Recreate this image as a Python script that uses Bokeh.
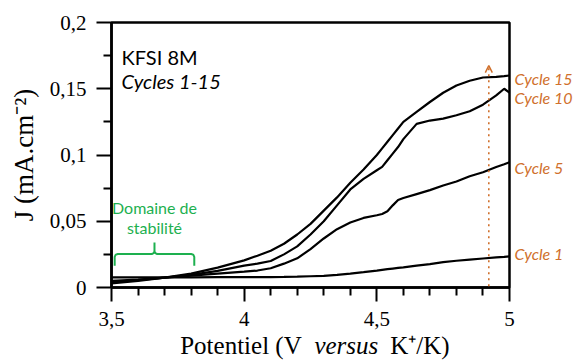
from bokeh.plotting import figure
from bokeh.models import Range1d, FixedTicker, Label, Arrow, OpenHead, LinearAxis
from bokeh.embed import file_html
from bokeh.resources import INLINE

# ---- data ----
potential = [3.5, 3.6, 3.7, 3.8, 3.9, 4.0, 4.05, 4.1, 4.15, 4.2, 4.25, 4.3, 4.35, 4.4, 4.45, 4.5,
             4.52, 4.54, 4.56, 4.58, 4.6, 4.65, 4.7, 4.75, 4.8, 4.85, 4.9, 4.95, 4.98, 5.0]
cycle_1 = [0.0076, 0.0077, 0.0077, 0.0077, 0.0078, 0.0078, 0.0078, 0.0079, 0.0080, 0.0082, 0.0085, 0.0088, 0.0095, 0.0105, 0.0116, 0.0128,
           0.0133, 0.0138, 0.0143, 0.0148, 0.0152, 0.0165, 0.0177, 0.0191, 0.0202, 0.0211, 0.0219, 0.0227, 0.0231, 0.0235]
cycle_5 = [0.0050, 0.0060, 0.0075, 0.0090, 0.0105, 0.0120, 0.0128, 0.0145, 0.0180, 0.0220, 0.0290, 0.0370, 0.0440, 0.0490, 0.0525, 0.0545,
           0.0555, 0.0575, 0.0620, 0.0660, 0.0675, 0.0705, 0.0735, 0.0770, 0.0800, 0.0840, 0.0870, 0.0910, 0.0930, 0.0945]
cycle_10 = [0.0040, 0.0055, 0.0075, 0.0095, 0.0125, 0.0165, 0.0180, 0.0200, 0.0250, 0.0310, 0.0400, 0.0500, 0.0620, 0.0740, 0.0820, 0.0885,
            0.0910, 0.0960, 0.1010, 0.1060, 0.1120, 0.1235, 0.1260, 0.1275, 0.1300, 0.1330, 0.1380, 0.1450, 0.1500, 0.1470]
cycle_15 = [0.0030, 0.0050, 0.0075, 0.0105, 0.0150, 0.0205, 0.0240, 0.0278, 0.0330, 0.0400, 0.0480, 0.0580, 0.0680, 0.0790, 0.0890, 0.1000,
            0.1050, 0.1100, 0.1150, 0.1200, 0.1250, 0.1325, 0.1400, 0.1470, 0.1525, 0.1560, 0.1585, 0.1590, 0.1595, 0.1600]
series_names = ["Cycle 1", "Cycle 5", "Cycle 10", "Cycle 15"]

x_ticks = [3.5, 4.0, 4.5, 5.0]
x_tick_labels = ["3,5", "4", "4,5", "5"]
x_minor = [3.6, 3.7, 3.8, 3.9, 4.1, 4.2, 4.3, 4.4, 4.6, 4.7, 4.8, 4.9]
y_ticks = [0, 0.05, 0.1, 0.15, 0.2]
y_tick_labels = ["0", "0,05", "0,1", "0,15", "0,2"]
y_minor = [0.025, 0.075, 0.125, 0.175]

ORANGE = "#D0702C"
GREEN = "#1DB04F"
SERIF = "Liberation Serif"
SANS = "Lato"

p = figure(width=575, height=363, output_backend="svg", toolbar_location=None,
           x_range=Range1d(3.5, 5.0), y_range=Range1d(0, 0.2),
           min_border_left=111, min_border_right=65, min_border_top=22, min_border_bottom=76,
           background_fill_color="white", border_fill_color="white")
p.xgrid.visible = False
p.ygrid.visible = False
p.outline_line_color = "black"
p.outline_line_width = 2.5
p.outline_line_alpha = 1

for ax in (p.xaxis[0], p.yaxis[0]):
    ax.axis_line_width = 2.5
    ax.major_tick_line_width = 2
    ax.minor_tick_line_width = 2
    ax.major_tick_in = 0
    ax.minor_tick_in = 0
    ax.major_label_text_font = SERIF
    ax.major_label_text_font_size = "21px"
    ax.major_label_text_color = "black"
    ax.axis_label_text_font = SERIF
    ax.axis_label_text_font_style = "normal"
    ax.axis_label_text_color = "black"

p.xaxis.ticker = FixedTicker(ticks=x_ticks, minor_ticks=x_minor)
p.xaxis.major_label_overrides = dict(zip(x_ticks, x_tick_labels))
p.xaxis.major_tick_out = 14
p.xaxis.minor_tick_out = 8
p.xaxis.major_label_standoff = 10

p.yaxis.ticker = FixedTicker(ticks=y_ticks, minor_ticks=y_minor)
p.yaxis.major_label_overrides = dict(zip(y_ticks, y_tick_labels))
p.yaxis.major_tick_out = 15
p.yaxis.minor_tick_out = 8
p.yaxis.major_label_standoff = 10
p.yaxis.axis_label = "J (mA.cm⁻²)"
p.yaxis.axis_label_text_font_size = "27px"
p.yaxis.axis_label_standoff = 8


def text_axis(positions, texts, standoff, style="normal", font=SERIF, size="25px", color="black"):
    ax = LinearAxis(ticker=FixedTicker(ticks=positions, minor_ticks=[]),
                    major_label_overrides=dict(zip(positions, texts)),
                    axis_line_color=None, major_tick_line_color=None, minor_tick_line_color=None,
                    major_tick_out=0, major_tick_in=0, minor_tick_out=0, minor_tick_in=0,
                    major_label_standoff=standoff, major_label_text_font=font,
                    major_label_text_font_size=size, major_label_text_font_style=style,
                    major_label_text_color=color)
    return ax


# x axis title: "Potentiel (V versus K+/K)" with italic "versus"
xlabel_pos = [3.988, 4.662]
xlabel_txt = ["Potentiel (V", "K⁺/K)"]
xlabel_it_pos = [4.385]
xlabel_it_txt = ["versus"]
p.add_layout(text_axis(xlabel_pos, xlabel_txt, 3), "below")
p.add_layout(text_axis(xlabel_it_pos, xlabel_it_txt, -30, style="italic"), "below")

# curve labels on the right
label_y = [0.0257, 0.0906, 0.1434, 0.1577]
p.add_layout(text_axis(label_y, series_names, 5, style="italic", font=SANS, size="16px", color=ORANGE), "right")

# curves
for ys in (cycle_1, cycle_5, cycle_10, cycle_15):
    p.line(potential, ys, line_color="black", line_width=2.2)

# orange dotted arrow
p.add_layout(Arrow(x_start=4.922, y_start=0.001, x_end=4.922, y_end=0.1675,
                   line_color=ORANGE, line_width=1.6, line_dash="dotted",
                   end=OpenHead(size=7, line_color=ORANGE, line_width=1.5)))

# title texts
p.add_layout(Label(x=3.538, y=0.1743, text="KFSI 8M", text_font=SANS, text_font_size="20px",
                   text_color="black", text_baseline="alphabetic"))
p.add_layout(Label(x=3.538, y=0.1555, text="Cycles 1-15", text_font=SANS, text_font_size="20px",
                   text_font_style="italic", text_color="black", text_baseline="alphabetic"))

# stability domain
p.add_layout(Label(x=3.662, y=0.0604, text="Domaine de", text_font=SANS, text_font_size="16px",
                   text_color=GREEN, text_align="center", text_baseline="alphabetic"))
p.add_layout(Label(x=3.662, y=0.0453, text="stabilité", text_font=SANS, text_font_size="16px",
                   text_color=GREEN, text_align="center", text_baseline="alphabetic"))
bx0, bx1, bxm = 3.512, 3.812, 3.662
by_end, by_mid, by_tip = 0.0165, 0.0253, 0.0340
brace_x = [bx0, bx0, bx0 + 0.004, bx0 + 0.012, bxm - 0.010, bxm - 0.003, bxm, bxm, bxm,
           bxm + 0.003, bxm + 0.010, bx1 - 0.012, bx1 - 0.004, bx1, bx1]
brace_y = [by_end, by_mid - 0.0022, by_mid - 0.0005, by_mid, by_mid, by_mid + 0.0006, by_mid + 0.002, by_tip, by_mid + 0.002,
           by_mid + 0.0006, by_mid, by_mid, by_mid - 0.0005, by_mid - 0.0022, by_end]
p.line(brace_x, brace_y, line_color=GREEN, line_width=2)

open("out.html", "w").write(file_html(p, INLINE))
